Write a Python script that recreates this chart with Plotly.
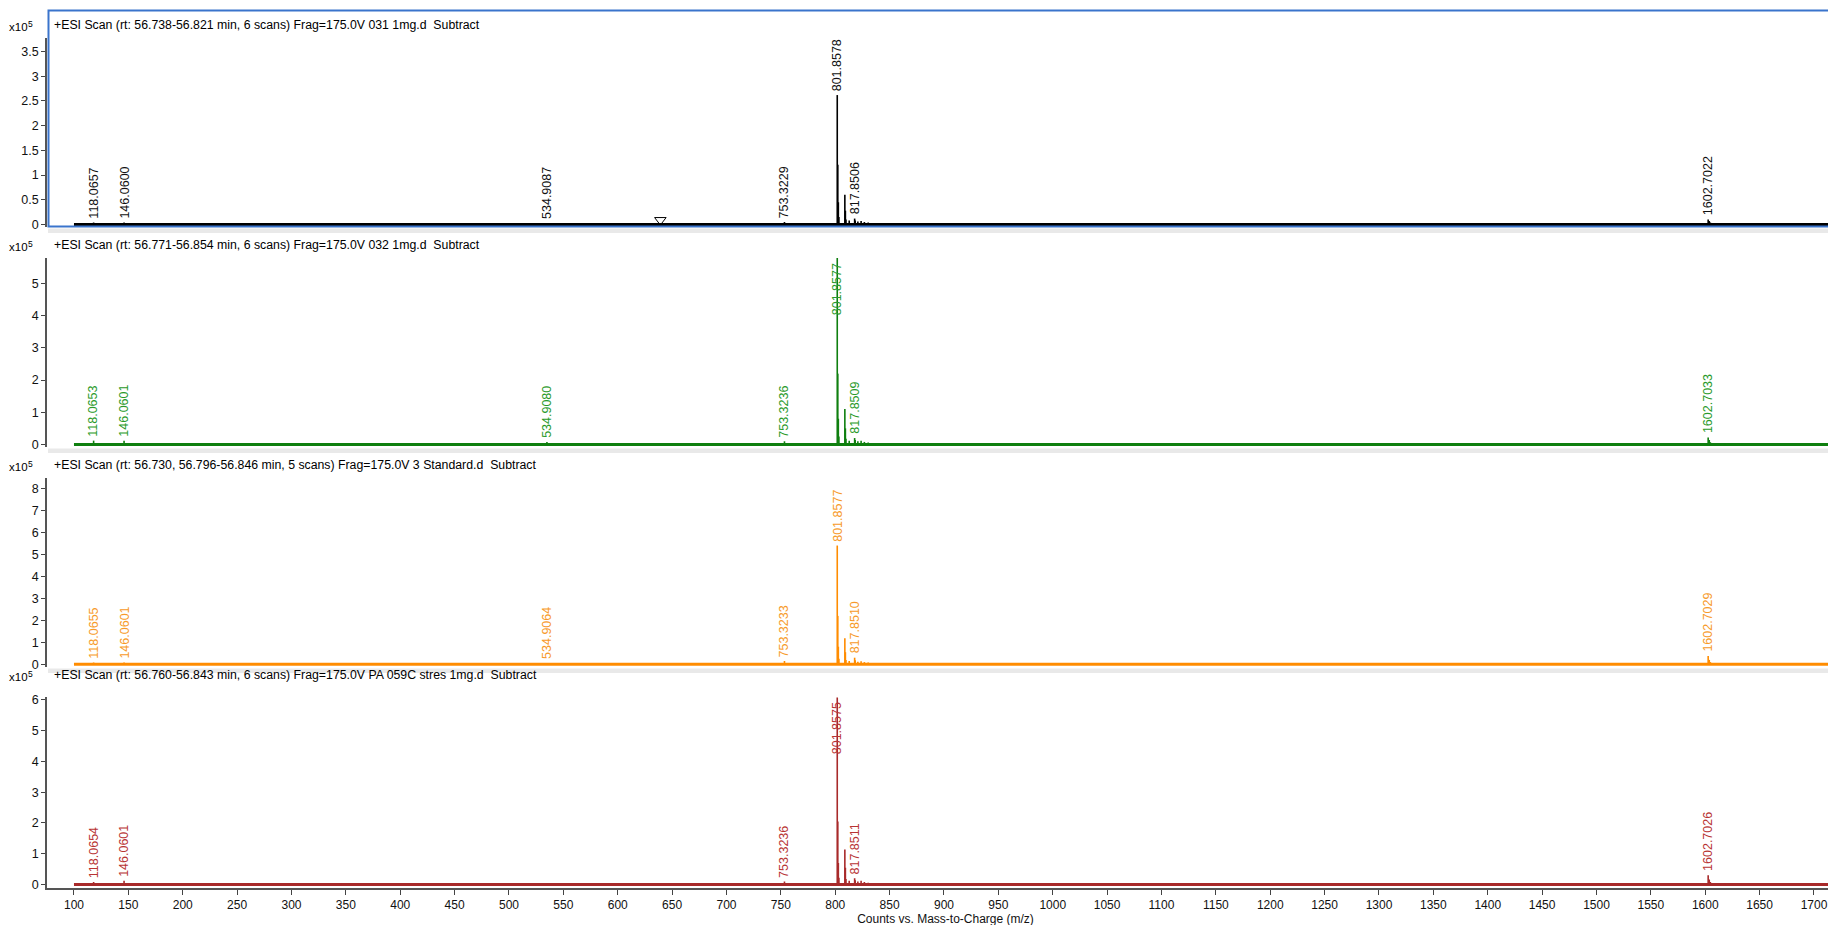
import plotly.graph_objects as go

# ---------------- DATA (intensities in units of 1e5 counts) ----------------
SCAN_RANGE = [100, 1728]

TITLES = [
    "+ESI Scan (rt: 56.738-56.821 min, 6 scans) Frag=175.0V 031 1mg.d  Subtract",
    "+ESI Scan (rt: 56.771-56.854 min, 6 scans) Frag=175.0V 032 1mg.d  Subtract",
    "+ESI Scan (rt: 56.730, 56.796-56.846 min, 5 scans) Frag=175.0V 3 Standard.d  Subtract",
    "+ESI Scan (rt: 56.760-56.843 min, 6 scans) Frag=175.0V PA 059C stres 1mg.d  Subtract",
]

# Panel 1 : 031 1mg
P1_MZ = [118.0657, 146.0600, 261.0, 534.9087, 753.3229, 801.8578, 802.3590, 802.8603, 803.3615,
         808.85, 809.35, 809.85, 812.85, 817.8506, 818.35, 820.8, 823.8, 826.8, 830.3,
         1602.7022, 1603.70, 1604.70, 1618.0, 1624.0, 1634.0]
P1_INT = [0.04, 0.04, 0.02, 0.03, 0.05, 2.62, 1.21, 0.45, 0.15,
          0.60, 0.28, 0.10, 0.08, 0.12, 0.08, 0.06, 0.07, 0.05, 0.04,
          0.10, 0.07, 0.04, 0.02, 0.02, 0.02]
P1_LABELS = ["118.0657", "146.0600", "534.9087", "753.3229", "801.8578", "817.8506", "1602.7022"]
P1_MARKER_MZ = [639.2]
P1_MARKER_INT = [0.09]

# Panel 2 : 032 1mg
P2_MZ = [118.0653, 146.0601, 343.0, 534.9080, 753.3236, 801.8577, 802.3590, 802.8603, 803.3615,
         808.85, 809.35, 809.85, 812.85, 817.8509, 818.35, 820.8, 823.8, 826.8, 830.3,
         1602.7033, 1603.70, 1604.70, 1618.0, 1624.0, 1634.0]
P2_INT = [0.12, 0.12, 0.03, 0.08, 0.10, 5.79, 2.20, 0.80, 0.25,
          1.10, 0.50, 0.18, 0.12, 0.20, 0.14, 0.10, 0.12, 0.08, 0.06,
          0.22, 0.14, 0.07, 0.04, 0.04, 0.03]
P2_LABELS = ["118.0653", "146.0601", "534.9080", "753.3236", "801.8577", "817.8509", "1602.7033"]

# Panel 3 : 3 Standard
P3_MZ = [118.0655, 146.0601, 261.0, 534.9064, 753.3233, 801.8577, 802.3590, 802.8603, 803.3615,
         808.85, 809.35, 809.85, 812.85, 817.8510, 818.35, 820.8, 823.8, 826.8, 830.3,
         1602.7029, 1603.70, 1604.70, 1618.0, 1624.0, 1634.0]
P3_INT = [0.08, 0.08, 0.04, 0.06, 0.15, 5.40, 2.20, 0.80, 0.25,
          1.18, 0.55, 0.20, 0.15, 0.30, 0.18, 0.12, 0.14, 0.10, 0.08,
          0.38, 0.20, 0.10, 0.06, 0.05, 0.04]
P3_LABELS = ["118.0655", "146.0601", "534.9064", "753.3233", "801.8577", "817.8510", "1602.7029"]

# Panel 4 : PA 059C stres 1mg
P4_MZ = [118.0654, 146.0601, 260.0, 345.0, 534.9, 753.3236, 801.8575, 802.3590, 802.8603, 803.3615,
         808.85, 809.35, 809.85, 812.85, 817.8511, 818.35, 820.8, 823.8, 826.8, 830.3,
         1602.7026, 1603.70, 1604.70, 1618.0, 1624.0, 1634.0]
P4_INT = [0.08, 0.12, 0.03, 0.03, 0.05, 0.10, 6.07, 2.05, 0.70, 0.22,
          1.14, 0.54, 0.18, 0.12, 0.20, 0.14, 0.10, 0.12, 0.08, 0.06,
          0.30, 0.16, 0.08, 0.05, 0.04, 0.03]
P4_LABELS = ["118.0654", "146.0601", "753.3236", "801.8575", "817.8511", "1602.7026"]

Y_TICKS = [[0, 0.5, 1, 1.5, 2, 2.5, 3, 3.5], [0, 1, 2, 3, 4, 5], [0, 1, 2, 3, 4, 5, 6, 7, 8], [0, 1, 2, 3, 4, 5, 6]]
Y_TICKTEXT = [["0", "0.5", "1", "1.5", "2", "2.5", "3", "3.5"], None, None, None]
X_TICKS = list(range(100, 1701, 50))
X_TITLE = "Counts vs. Mass-to-Charge (m/z)"
MULT_BASE = "x10"
MULT_EXP = "5"

# ---------------- STYLE / GEOMETRY ----------------
W, H = 1836, 925
FONT = "Liberation Sans, Arial, sans-serif"
LINE_COLORS = ["#000000", "#0f7f0f", "#ff8c00", "#a82a2a"]
LABEL_COLORS = ["#111111", "#2a9a2a", "#f79a2a", "#b83434"]
DY = -8
TOP_PX = [38 + DY, 258 + DY, 478 + DY, 697 + DY]
ZERO_PX = [224.5 + DY, 444.5 + DY, 664.3 + DY, 884.5 + DY]
BOT_PX = [227 + DY, 447 + DY, 667 + DY, 887.5 + DY]
Y_MAX = [3.775, 5.79, 8.47, 6.09]
TITLE_PX = [25 + DY, 245 + DY, 465 + DY, 675 + DY]
AXIS_LEFT_PX = 39
X_RANGE = [75.2, 1727.6]

panels = [
    (P1_MZ, P1_INT, P1_LABELS),
    (P2_MZ, P2_INT, P2_LABELS),
    (P3_MZ, P3_INT, P3_LABELS),
    (P4_MZ, P4_INT, P4_LABELS),
]


def py(px):
    return 1 - px / H


fig = go.Figure()
annotations = []
shapes = []
layout = {}

for i, (mz, inten, labels) in enumerate(panels):
    n = i + 1
    xa = "x" if n == 1 else f"x{n}"
    ya = "y" if n == 1 else f"y{n}"
    ppu = (ZERO_PX[i] - TOP_PX[i]) / Y_MAX[i]
    ymin = -(BOT_PX[i] - ZERO_PX[i]) / ppu

    # baseline (dense noise floor)
    fig.add_trace(go.Scatter(x=SCAN_RANGE, y=[0, 0], mode="lines", xaxis=xa, yaxis=ya,
                             line=dict(color=LINE_COLORS[i], width=3), hoverinfo="skip", showlegend=False))
    # sticks
    sx, sy = [], []
    for m, v in zip(mz, inten):
        sx += [m, m, None]
        sy += [0, v, None]
    fig.add_trace(go.Scatter(x=sx, y=sy, mode="lines", xaxis=xa, yaxis=ya,
                             line=dict(color=LINE_COLORS[i], width=1.6), hoverinfo="skip", showlegend=False))

    # peak labels
    for lab in labels:
        lm = float(lab)
        j = min(range(len(mz)), key=lambda k: abs(mz[k] - lm))
        v = inten[j]
        room = (Y_MAX[i] - v) * ppu
        if room > 56:
            annotations.append(dict(x=lm, y=v, xref=xa, yref=ya, text=lab, textangle=-90,
                                    showarrow=False, xanchor="center", yanchor="bottom", yshift=2,
                                    font=dict(family=FONT, size=12.5, color=LABEL_COLORS[i])))
        else:
            annotations.append(dict(x=lm, y=Y_MAX[i], xref=xa, yref=ya, text=lab, textangle=-90,
                                    showarrow=False, xanchor="center", yanchor="top", yshift=-3,
                                    font=dict(family=FONT, size=12.5, color=LABEL_COLORS[i])))

    # title & multiplier
    annotations.append(dict(x=44 / W, y=py(TITLE_PX[i]), xref="paper", yref="paper", text=TITLES[i],
                            showarrow=False, xanchor="left", yanchor="middle",
                            font=dict(family=FONT, size=12.3, color="#000")))
    annotations.append(dict(x=0 / W, y=py(TITLE_PX[i] + 1.5), xref="paper", yref="paper",
                            text=MULT_BASE, showarrow=False, xanchor="left", yanchor="middle",
                            borderpad=0, font=dict(family=FONT, size=11.5, color="#000")))
    annotations.append(dict(x=18.5 / W, y=py(TITLE_PX[i] - 1), xref="paper", yref="paper",
                            text=MULT_EXP, showarrow=False, xanchor="left", yanchor="middle",
                            borderpad=0, font=dict(family=FONT, size=8.5, color="#000")))

    is_last = n == 4
    xdef = dict(
        domain=[AXIS_LEFT_PX / W, 1], range=X_RANGE, anchor=ya,
        showgrid=False, zeroline=False,
        showline=is_last, linecolor="#555", linewidth=2,
        ticks="outside" if is_last else "", ticklen=5, tickcolor="#444", tickwidth=1,
        tickvals=X_TICKS if is_last else [], showticklabels=is_last,
        tickfont=dict(family=FONT, size=12, color="#111"),
        automargin=False,
    )
    if is_last:
        xdef["title"] = dict(text=X_TITLE, font=dict(family=FONT, size=12, color="#111"), standoff=0)
    layout["xaxis" if n == 1 else f"xaxis{n}"] = xdef
    layout["yaxis" if n == 1 else f"yaxis{n}"] = dict(
        domain=[py(BOT_PX[i]), py(TOP_PX[i])], range=[ymin, Y_MAX[i]], anchor=xa,
        showgrid=False, zeroline=False, showline=True, linecolor="#555", linewidth=1.5,
        ticks="outside", ticklen=4, tickcolor="#444", tickvals=Y_TICKS[i],
        ticktext=Y_TICKTEXT[i], tickfont=dict(family=FONT, size=12.5, color="#111"),
        automargin=False,
    )

# precursor marker in panel 1
fig.add_trace(go.Scatter(x=P1_MARKER_MZ, y=P1_MARKER_INT, mode="markers", xaxis="x", yaxis="y",
                         marker=dict(symbol="triangle-down-open", size=10, color="#000", line=dict(width=1)),
                         hoverinfo="skip", showlegend=False))

# separators between panels
for b in BOT_PX[:3]:
    shapes.append(dict(type="rect", xref="paper", yref="paper", x0=(AXIS_LEFT_PX + 1) / W, x1=1.01,
                       y0=py(b + 6), y1=py(b + 1.5), fillcolor="#e9e9e9", line=dict(width=0), layer="below"))
# selection border for panel 1
shapes.append(dict(type="rect", xref="paper", yref="paper", x0=(AXIS_LEFT_PX + 1.5) / W, x1=1.01,
                   y0=py(BOT_PX[0] - 0.5), y1=py(10.5 + DY), line=dict(color="#3a74cc", width=2),
                   fillcolor="rgba(0,0,0,0)"))

fig.update_layout(
    width=W, height=H, margin=dict(l=0, r=0, t=0, b=0),
    paper_bgcolor="white", plot_bgcolor="white",
    showlegend=False, annotations=annotations, shapes=shapes,
    font=dict(family=FONT, size=12, color="#111"),
    **layout,
)

fig.write_html("out.html")
